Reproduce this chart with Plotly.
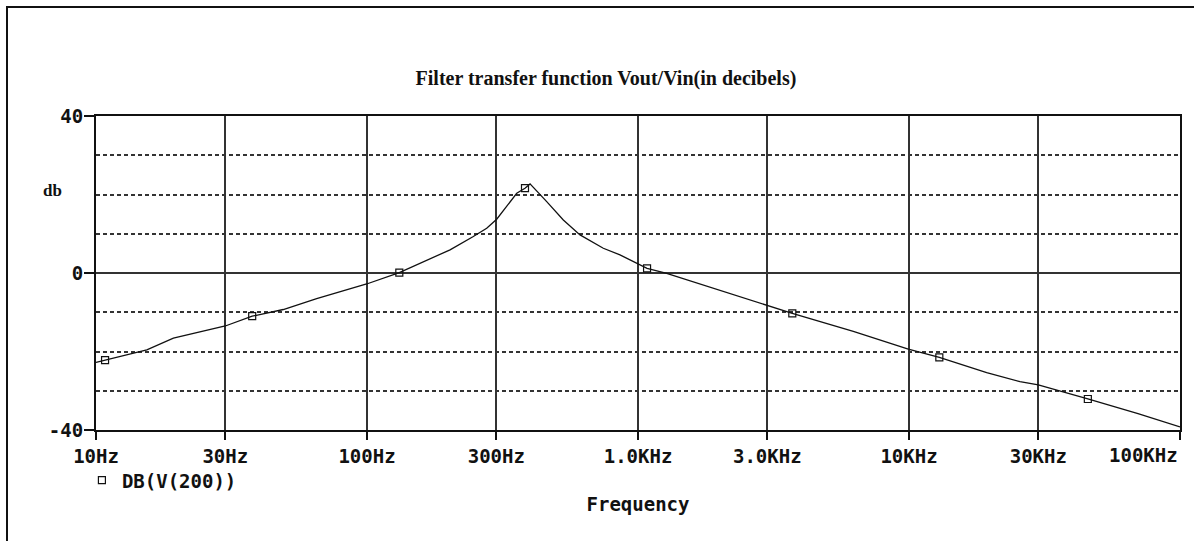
import math
import plotly.graph_objects as go

# ---- data ----
freq_hz = [10, 15.4, 19.3, 25.6, 30, 37.7, 49.1, 65.2, 99.7, 131.6, 170.8, 202.5,
           246.8, 276.5, 301, 327.8, 356.9, 382.8, 399.6, 460.4, 530.2, 611, 744.7,
           858, 934.5, 1080, 1276, 1742, 2985, 3710, 6230, 9940, 12940, 19350,
           25680, 30000, 45700, 70000, 100000]
db_values = [-22.8, -19.6, -16.6, -14.7, -13.5, -11.0, -9.3, -6.5, -2.8, 0.1, 3.5, 5.9,
             9.3, 11.4, 13.7, 16.9, 20.3, 21.6, 22.7, 18.2, 13.5, 9.7, 6.3,
             4.6, 3.3, 1.2, -0.1, -3.1, -8.4, -10.3, -14.9, -19.4, -21.5, -25.4,
             -27.7, -28.5, -32.1, -35.8, -39.2]

marker_freq = [10.8, 37.7, 131.6, 382.8, 1080, 3710, 12940, 45700]
marker_db = [-22.2, -11.0, 0.1, 21.6, 1.2, -10.3, -21.5, -32.1]

x_tickvals = [10, 30, 100, 300, 1000, 3000, 10000, 30000, 100000]
x_ticktext = ["10Hz", "30Hz", "100Hz", "300Hz", "1.0KHz", "3.0KHz", "10KHz", "30KHz", "100KHz"]
y_tickvals = [-40, 0, 40]
y_ticktext = ["-40", "0", "40"]
y_dashed = [-30, -20, -10, 10, 20, 30]

series_name = "DB(V(200))"
title_text = "Filter transfer function Vout/Vin(in decibels)"
y_label = "db"
x_label = "Frequency"

MONO = "DejaVu Sans Mono"
SERIF = "Liberation Serif"
INK = "#111111"
GRID = "#333333"

fig = go.Figure()
fig.add_trace(go.Scatter(
    x=freq_hz, y=db_values, mode="lines",
    line=dict(color=INK, width=1.3), showlegend=False, hoverinfo="skip"))
fig.add_trace(go.Scatter(
    x=marker_freq, y=marker_db, mode="markers", name="<b>" + series_name + "</b>",
    marker=dict(symbol="square-open", size=7, color=INK, line=dict(width=1.2, color=INK))))

# the last tick label is right-aligned to the axis end, drawn separately below
shown_ticktext = ["<b>%s</b>" % t for t in x_ticktext[:-1]] + [""]

fig.update_layout(
    width=1194, height=541,
    margin=dict(l=96, r=14, t=116, b=111),
    paper_bgcolor="white", plot_bgcolor="white",
    title=dict(text="<b>" + title_text + "</b>", x=0.5075, xanchor="center",
               y=1 - 78 / 541, yanchor="middle",
               font=dict(family=SERIF, size=20, color=INK)),
    showlegend=True,
    legend=dict(x=-0.013, xanchor="left", y=-0.16, yanchor="middle",
                bgcolor="rgba(0,0,0,0)", borderwidth=0,
                font=dict(family=MONO, size=19, color=INK)),
    xaxis=dict(
        type="log", range=[1, 5],
        tickmode="array", tickvals=x_tickvals, ticktext=shown_ticktext,
        tickfont=dict(family=MONO, size=19, color=INK),
        ticks="outside", ticklen=8, tickwidth=2, tickcolor=INK,
        showgrid=True, gridcolor=GRID, gridwidth=1.5,
        showline=True, linecolor=INK, linewidth=2, mirror=True,
        zeroline=False,
        title=dict(text="<b>" + x_label + "</b>", standoff=32,
                   font=dict(family=MONO, size=19, color=INK)),
    ),
    yaxis=dict(
        range=[-40, 40],
        tickmode="array", tickvals=y_tickvals,
        ticktext=["<b>%s</b>" % t for t in y_ticktext],
        tickfont=dict(family=MONO, size=19, color=INK),
        ticks="outside", ticklen=10, tickwidth=2, tickcolor=INK,
        ticklabelstandoff=-3,
        showgrid=False,
        zeroline=True, zerolinecolor=GRID, zerolinewidth=1.5,
        showline=True, linecolor=INK, linewidth=2, mirror=True,
        minor=dict(tickmode="array", tickvals=y_dashed, ticks="", showgrid=True,
                   gridcolor=GRID, gridwidth=1.5, griddash="4px,3px"),
    ),
)

fig.add_annotation(text="<b>" + x_ticktext[-1] + "</b>", xref="x", yref="paper",
                   x=math.log10(x_tickvals[-1]), y=-0.08, xanchor="right", yanchor="middle",
                   showarrow=False, font=dict(family=MONO, size=19, color=INK))

# y-axis label drawn horizontally as in the reference
fig.add_annotation(text="<b>" + y_label + "</b>", xref="paper", yref="paper",
                   x=(41 - 96) / 1084, y=(430 - 179) / 314, showarrow=False,
                   font=dict(family=SERIF, size=17, color=INK))

# outer frame (extends past right and bottom edges of the window)
fig.add_shape(type="rect", xref="paper", yref="paper",
              x0=(7 - 96) / 1084, x1=(1210 - 96) / 1084,
              y0=(430 - 560) / 314, y1=(430 - 7) / 314,
              line=dict(color=INK, width=2), fillcolor="rgba(0,0,0,0)", layer="below")

fig.write_html("out.html", config={"displayModeBar": False},
               post_script="document.body.style.margin='0';document.body.style.overflow='hidden';")
